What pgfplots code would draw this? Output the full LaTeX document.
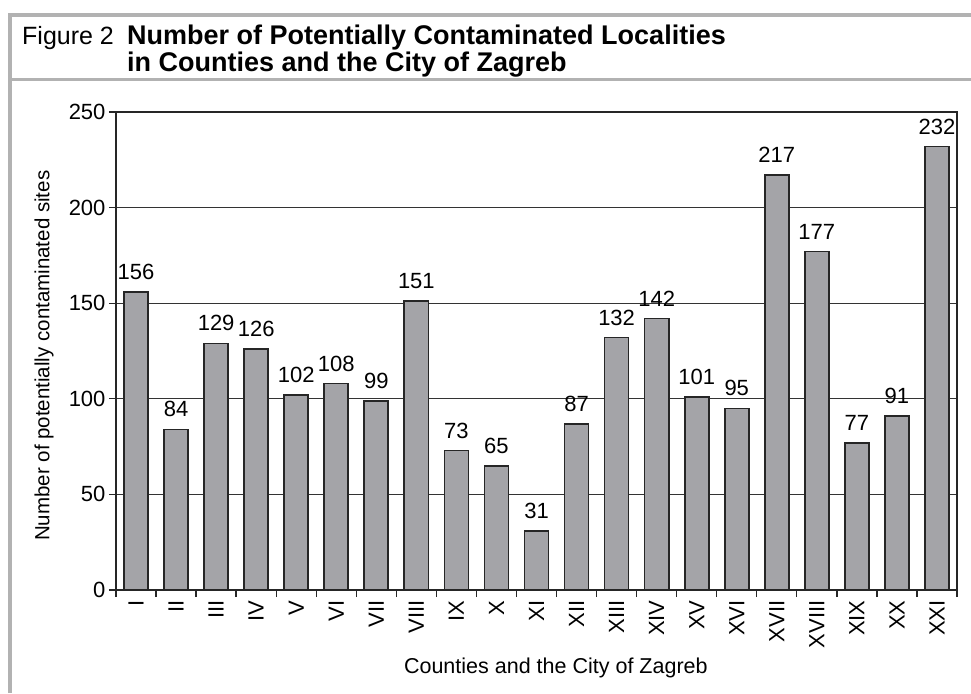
\documentclass[border=0pt]{standalone}
\usepackage{fontspec}
\setmainfont{Liberation Sans}
\usepackage{pgfplots}
\pgfplotsset{compat=1.18}
\definecolor{bargray}{RGB}{164,164,168}
\definecolor{framegray}{RGB}{178,178,178}
\newcommand{\cf}{\fontsize{22}{26}\selectfont}
\begin{document}
\begin{tikzpicture}[x=1pt,y=1pt]
\useasboundingbox (0,0) rectangle (971,693);
\draw[framegray, line width=3.5pt] (10,0) -- (10,678) -- (971,678);
\draw[framegray, line width=3pt] (10,613) -- (971,613);
\node[anchor=base west, inner sep=0, font=\fontsize{25}{30}\selectfont] at (22,648) {Figure 2};
\node[anchor=base west, inner sep=0, font=\fontsize{27}{32}\selectfont\bfseries] at (127,648) {Number of Potentially Contaminated Localities};
\node[anchor=base west, inner sep=0, font=\fontsize{27}{32}\selectfont\bfseries] at (127,621) {in Counties and the City of Zagreb};
\begin{axis}[
  at={(116pt,103pt)}, anchor=south west,
  scale only axis, width=841pt, height=478pt,
  xmin=-0.5, xmax=20.5, ymin=0, ymax=250,
  ybar, bar width=0.6,
  /pgf/number format/assume math mode=true,
  ytick={0,50,...,250},
  xtick={-0.5,0.5,...,20.5}, xticklabels={},
  extra x ticks={0,...,20},
  extra x tick labels={I,II,III,IV,V,VI,VII,VIII,IX,X,XI,XII,XIII,XIV,XV,XVI,XVII,XVIII,XIX,XX,XXI},
  extra x tick style={major tick length=0pt, grid=none},
  xtick pos=bottom, ytick pos=left,
  tick align=outside, major tick length=7pt,
  tick style={line width=1.3pt, black!85},
  axis line style={line width=1.3pt, black!85},
  ymajorgrids, grid style={line width=1.3pt, black!80},
  ticklabel style={font=\cf},
  xticklabel style={yshift=-7pt, rotate=90, anchor=east},
  every axis x label/.style={at={(axis description cs:0.523,0)}, anchor=base, yshift=-83pt, font=\fontsize{21.5}{26}\selectfont},
  every axis y label/.style={at={(axis description cs:0,0.49)}, xshift=-72pt, rotate=90, anchor=center, font=\fontsize{20.5}{25}\selectfont},
  xlabel={Counties and the City of Zagreb},
  ylabel={Number of potentially contaminated sites},
]
\addplot[fill=bargray, draw=black!85, line width=1.7pt,
  nodes near coords,
  nodes near coords style={font=\cf, yshift=8pt}]
  coordinates {
  (0,156) (1,84) (2,129) (3,126) (4,102) (5,108) (6,99) (7,151) (8,73) (9,65)
  (10,31) (11,87) (12,132) (13,142) (14,101) (15,95) (16,217) (17,177) (18,77) (19,91) (20,232)};
\end{axis}
\end{tikzpicture}
\end{document}
